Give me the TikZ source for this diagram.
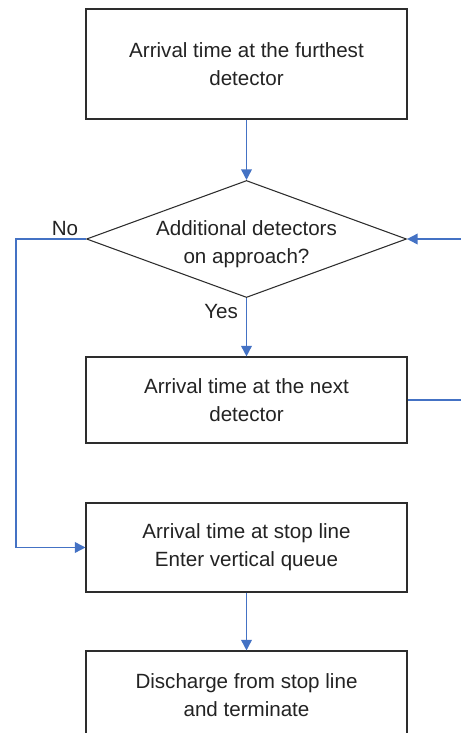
\documentclass[tikz,border=0pt]{standalone}
\usepackage{fontspec}
\setmainfont{Liberation Sans}
\usetikzlibrary{arrows.meta,shapes.geometric}
\definecolor{FluxoAzul}{RGB}{68,114,196}
\definecolor{FluxoBorda}{RGB}{45,45,45}
\definecolor{FluxoTexto}{RGB}{35,35,35}
\tikzset{
  caixa/.style={draw=FluxoBorda, line width=0.8pt, fill=white, align=center,
                text=FluxoTexto, font=\fontsize{15.5}{21}\selectfont,
                minimum width=8.493cm, inner sep=0pt},
  losango/.style={diamond, draw=FluxoBorda, line width=0.8pt, inner sep=0pt,
                  minimum width=8.467cm, minimum height=3.096cm},
  seta/.style={-{Triangle[length=8pt, width=8pt]}, line width=1.2pt, FluxoAzul},
  rotulo/.style={font=\fontsize{15.5}{21}\selectfont, text=FluxoTexto, align=center},
}

\begin{document}
\begin{tikzpicture}
  \useasboundingbox (0,0) rectangle (12.197,19.394);
  \clip (0,0) rectangle (12.197,19.394);

  % ------------------------------------------------------------------ caixas
  \node[caixa, minimum height=2.910cm] (chegadafim) at (6.522,17.700)
    {Arrival time at the furthest\\detector};
  \node[losango] (decisao) at (6.522,13.070) {};
  \node[rotulo] (decisaotexto) at (6.522,12.93) {Additional detectors\\on approach?};
  \node[caixa, minimum height=2.275cm] (chegadaproximo) at (6.522,8.811)
    {Arrival time at the next\\detector};
  \node[caixa, minimum height=2.355cm] (chegadaparada) at (6.522,4.908)
    {Arrival time at stop line\\Enter vertical queue};
  \node[caixa, minimum height=2.355cm] (descarga) at (6.522,0.992)
    {Discharge from stop line\\and terminate};

  % ------------------------------------------------------------------ ligacoes
  \coordinate (desvio) at (0.423,0);
  \coordinate (retorno) at (12.9,0);
  \draw[seta] (chegadafim) -- (decisao);
  \draw[seta] (decisao) -- (chegadaproximo);
  \draw[seta] (chegadaparada) -- (descarga);
  \draw[seta] (decisao.west) -- (decisao.west -| desvio) |- (chegadaparada.west);
  \draw[seta] (chegadaproximo.east) -- (chegadaproximo.east -| retorno) |- (decisao.east);

  \node[rotulo] (rotulono) at (1.72,13.36) {No};
  \node[rotulo] (rotuloyes) at (5.85,11.14) {Yes};
\end{tikzpicture}
\end{document}
